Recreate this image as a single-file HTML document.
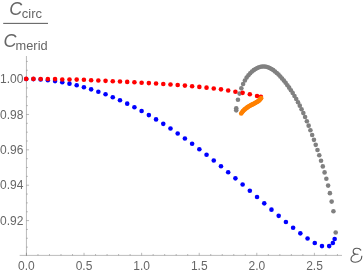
<!DOCTYPE html>
<html><head><meta charset="utf-8"><title>plot</title>
<style>
html,body{margin:0;padding:0;background:#fff;}
body{width:363px;height:273px;overflow:hidden;font-family:"Liberation Sans",sans-serif;}
svg{display:block;}
</style></head><body>
<svg width="363" height="273" viewBox="0 0 363 273">
<rect width="363" height="273" fill="#ffffff"/>
<g stroke="#666666" stroke-width="0.45" fill="none">
<path d="M19.7 255.4H342"/>
<path d="M26.45 56V255.8"/>
<path d="M26.45 255.4v-2.6M37.97 255.4v-1.4M49.49 255.4v-1.4M61.00 255.4v-1.4M72.52 255.4v-1.4M84.04 255.4v-2.6M95.56 255.4v-1.4M107.08 255.4v-1.4M118.59 255.4v-1.4M130.11 255.4v-1.4M141.63 255.4v-2.6M153.15 255.4v-1.4M164.67 255.4v-1.4M176.18 255.4v-1.4M187.70 255.4v-1.4M199.22 255.4v-2.6M210.74 255.4v-1.4M222.26 255.4v-1.4M233.77 255.4v-1.4M245.29 255.4v-1.4M256.81 255.4v-2.6M268.33 255.4v-1.4M279.85 255.4v-1.4M291.36 255.4v-1.4M302.88 255.4v-1.4M314.40 255.4v-2.6M325.92 255.4v-1.4M337.44 255.4v-1.4"/>
<path d="M26.45 247.12h1.4M26.45 238.27h1.4M26.45 229.43h1.4M26.45 220.59h2.6M26.45 211.75h1.4M26.45 202.90h1.4M26.45 194.06h1.4M26.45 185.22h2.6M26.45 176.37h1.4M26.45 167.53h1.4M26.45 158.69h1.4M26.45 149.84h2.6M26.45 141.00h1.4M26.45 132.16h1.4M26.45 123.31h1.4M26.45 114.47h2.6M26.45 105.63h1.4M26.45 96.79h1.4M26.45 87.94h1.4M26.45 79.10h2.6M26.45 70.26h1.4M26.45 61.41h1.4"/>
</g>
<g fill="#0000ff"><circle cx="26.20" cy="79.01" r="2.30"/><circle cx="33.41" cy="79.09" r="2.30"/><circle cx="40.63" cy="79.49" r="2.30"/><circle cx="47.84" cy="80.16" r="2.30"/><circle cx="55.06" cy="81.09" r="2.30"/><circle cx="62.27" cy="82.26" r="2.30"/><circle cx="69.48" cy="83.67" r="2.30"/><circle cx="76.70" cy="85.32" r="2.30"/><circle cx="83.91" cy="87.21" r="2.30"/><circle cx="91.13" cy="89.33" r="2.30"/><circle cx="98.34" cy="91.70" r="2.30"/><circle cx="105.55" cy="94.32" r="2.30"/><circle cx="112.77" cy="97.18" r="2.30"/><circle cx="119.98" cy="100.28" r="2.30"/><circle cx="127.20" cy="103.63" r="2.30"/><circle cx="134.41" cy="107.22" r="2.30"/><circle cx="141.62" cy="111.05" r="2.30"/><circle cx="148.84" cy="115.11" r="2.30"/><circle cx="156.05" cy="119.38" r="2.30"/><circle cx="163.27" cy="123.87" r="2.30"/><circle cx="170.48" cy="128.57" r="2.30"/><circle cx="177.69" cy="133.46" r="2.30"/><circle cx="184.91" cy="138.53" r="2.30"/><circle cx="192.12" cy="143.78" r="2.30"/><circle cx="199.34" cy="149.19" r="2.30"/><circle cx="206.55" cy="154.76" r="2.30"/><circle cx="213.76" cy="160.47" r="2.30"/><circle cx="220.98" cy="166.31" r="2.30"/><circle cx="228.19" cy="172.27" r="2.30"/><circle cx="235.41" cy="178.34" r="2.30"/><circle cx="242.62" cy="184.51" r="2.30"/><circle cx="249.83" cy="190.75" r="2.30"/><circle cx="257.05" cy="197.04" r="2.30"/><circle cx="264.26" cy="203.35" r="2.30"/><circle cx="271.48" cy="209.64" r="2.30"/><circle cx="278.69" cy="215.86" r="2.30"/><circle cx="285.90" cy="221.94" r="2.30"/><circle cx="293.12" cy="227.81" r="2.30"/><circle cx="300.33" cy="233.35" r="2.30"/><circle cx="307.55" cy="238.45" r="2.30"/><circle cx="314.76" cy="242.95" r="2.30"/><circle cx="321.97" cy="246.10" r="2.30"/><circle cx="329.19" cy="246.10" r="2.30"/><circle cx="332.86" cy="243.07" r="2.30"/><circle cx="334.64" cy="238.98" r="2.30"/></g><g fill="#808080"><circle cx="236.25" cy="110.35" r="2.30"/><circle cx="236.25" cy="108.20" r="2.30"/><circle cx="237.95" cy="99.80" r="2.30"/><circle cx="239.57" cy="93.58" r="2.30"/><circle cx="241.34" cy="88.34" r="2.30"/><circle cx="243.11" cy="84.03" r="2.30"/><circle cx="244.88" cy="80.51" r="2.30"/><circle cx="246.65" cy="77.60" r="2.30"/><circle cx="248.43" cy="75.21" r="2.30"/><circle cx="250.20" cy="73.21" r="2.30"/><circle cx="251.97" cy="71.54" r="2.30"/><circle cx="253.74" cy="70.14" r="2.30"/><circle cx="255.51" cy="68.98" r="2.30"/><circle cx="257.28" cy="68.04" r="2.30"/><circle cx="259.05" cy="67.32" r="2.30"/><circle cx="260.82" cy="66.82" r="2.30"/><circle cx="262.59" cy="66.55" r="2.30"/><circle cx="264.36" cy="66.51" r="2.30"/><circle cx="266.14" cy="66.73" r="2.30"/><circle cx="267.91" cy="67.23" r="2.30"/><circle cx="269.68" cy="67.98" r="2.30"/><circle cx="271.45" cy="68.95" r="2.30"/><circle cx="273.22" cy="70.11" r="2.30"/><circle cx="274.99" cy="71.45" r="2.30"/><circle cx="276.76" cy="72.95" r="2.30"/><circle cx="278.53" cy="74.62" r="2.30"/><circle cx="280.30" cy="76.46" r="2.30"/><circle cx="282.08" cy="78.45" r="2.30"/><circle cx="283.85" cy="80.58" r="2.30"/><circle cx="285.62" cy="82.81" r="2.30"/><circle cx="287.39" cy="85.18" r="2.30"/><circle cx="289.16" cy="87.66" r="2.30"/><circle cx="290.93" cy="90.28" r="2.30"/><circle cx="292.70" cy="93.03" r="2.30"/><circle cx="294.47" cy="95.94" r="2.30"/><circle cx="296.24" cy="99.01" r="2.30"/><circle cx="298.01" cy="102.26" r="2.30"/><circle cx="299.79" cy="105.67" r="2.30"/><circle cx="301.56" cy="109.28" r="2.30"/><circle cx="303.33" cy="113.08" r="2.30"/><circle cx="305.10" cy="117.07" r="2.30"/><circle cx="306.87" cy="121.27" r="2.30"/><circle cx="308.64" cy="125.66" r="2.30"/><circle cx="310.41" cy="130.23" r="2.30"/><circle cx="312.18" cy="134.96" r="2.30"/><circle cx="313.95" cy="139.84" r="2.30"/><circle cx="315.72" cy="144.83" r="2.30"/><circle cx="317.50" cy="149.96" r="2.30"/><circle cx="319.27" cy="155.23" r="2.30"/><circle cx="321.04" cy="160.71" r="2.30"/><circle cx="322.81" cy="166.42" r="2.30"/><circle cx="324.58" cy="172.41" r="2.30"/><circle cx="326.35" cy="178.78" r="2.30"/><circle cx="328.12" cy="185.62" r="2.30"/><circle cx="329.89" cy="193.13" r="2.30"/><circle cx="331.66" cy="201.60" r="2.30"/><circle cx="333.43" cy="211.19" r="2.30"/><circle cx="335.70" cy="232.50" r="2.30"/></g><g fill="#ff0000"><circle cx="26.20" cy="78.90" r="2.30"/><circle cx="33.41" cy="78.90" r="2.30"/><circle cx="40.63" cy="79.00" r="2.30"/><circle cx="47.84" cy="79.05" r="2.30"/><circle cx="55.06" cy="79.10" r="2.30"/><circle cx="62.27" cy="79.45" r="2.30"/><circle cx="69.48" cy="79.55" r="2.30"/><circle cx="76.70" cy="79.60" r="2.30"/><circle cx="83.91" cy="79.70" r="2.30"/><circle cx="91.13" cy="80.22" r="2.30"/><circle cx="98.34" cy="80.52" r="2.30"/><circle cx="105.55" cy="80.84" r="2.30"/><circle cx="112.77" cy="81.18" r="2.30"/><circle cx="119.98" cy="81.53" r="2.30"/><circle cx="127.20" cy="81.89" r="2.30"/><circle cx="134.41" cy="82.28" r="2.30"/><circle cx="141.62" cy="82.68" r="2.30"/><circle cx="148.84" cy="83.10" r="2.30"/><circle cx="156.05" cy="83.54" r="2.30"/><circle cx="163.27" cy="84.00" r="2.30"/><circle cx="170.48" cy="84.50" r="2.30"/><circle cx="177.69" cy="85.03" r="2.30"/><circle cx="184.91" cy="85.61" r="2.30"/><circle cx="192.12" cy="86.23" r="2.30"/><circle cx="199.34" cy="86.91" r="2.30"/><circle cx="206.55" cy="87.65" r="2.30"/><circle cx="213.76" cy="88.47" r="2.30"/><circle cx="220.98" cy="89.37" r="2.30"/><circle cx="228.19" cy="90.55" r="2.30"/><circle cx="235.41" cy="91.70" r="2.30"/><circle cx="242.62" cy="92.85" r="2.30"/><circle cx="249.83" cy="94.20" r="2.30"/><circle cx="257.05" cy="95.95" r="2.30"/><circle cx="260.90" cy="96.75" r="2.30"/></g><g fill="#ff8000"><circle cx="241.20" cy="113.50" r="2.30"/><circle cx="242.07" cy="112.33" r="2.30"/><circle cx="242.93" cy="111.16" r="2.30"/><circle cx="243.80" cy="110.27" r="2.30"/><circle cx="244.67" cy="109.38" r="2.30"/><circle cx="245.54" cy="108.68" r="2.30"/><circle cx="246.40" cy="108.01" r="2.30"/><circle cx="247.27" cy="107.38" r="2.30"/><circle cx="248.14" cy="106.83" r="2.30"/><circle cx="249.01" cy="106.27" r="2.30"/><circle cx="249.87" cy="105.78" r="2.30"/><circle cx="250.74" cy="105.31" r="2.30"/><circle cx="251.61" cy="104.84" r="2.30"/><circle cx="252.48" cy="104.39" r="2.30"/><circle cx="253.34" cy="103.93" r="2.30"/><circle cx="254.21" cy="103.48" r="2.30"/><circle cx="255.08" cy="103.03" r="2.30"/><circle cx="255.95" cy="102.57" r="2.30"/><circle cx="256.81" cy="102.07" r="2.30"/><circle cx="257.68" cy="101.58" r="2.30"/><circle cx="258.55" cy="100.91" r="2.30"/><circle cx="259.42" cy="100.14" r="2.30"/><circle cx="260.28" cy="99.21" r="2.30"/><circle cx="261.15" cy="98.15" r="2.30"/></g>
<g font-family="Liberation Sans, sans-serif" font-size="12px" fill="#666666" style="filter:grayscale(1)">
<text x="26.40" y="270.0" text-anchor="middle">0.0</text>
<text x="84.02" y="270.0" text-anchor="middle">0.5</text>
<text x="141.64" y="270.0" text-anchor="middle">1.0</text>
<text x="199.26" y="270.0" text-anchor="middle">1.5</text>
<text x="256.88" y="270.0" text-anchor="middle">2.0</text>
<text x="314.50" y="270.0" text-anchor="middle">2.5</text>
<text x="23.3" y="83.35" text-anchor="end">1.00</text>
<text x="23.3" y="118.72" text-anchor="end">0.98</text>
<text x="23.3" y="154.09" text-anchor="end">0.96</text>
<text x="23.3" y="189.46" text-anchor="end">0.94</text>
<text x="23.3" y="224.83" text-anchor="end">0.92</text>
</g>
<g font-family="Liberation Sans, sans-serif" fill="#666666" style="filter:grayscale(1)">
<text x="9.3" y="14.8" font-size="18px" font-style="italic">C</text>
<text x="21.8" y="18" font-size="13px">circ</text>
<rect x="3.2" y="22.85" width="44.8" height="1.1"/>
<text x="3.5" y="46.5" font-size="18px" font-style="italic">C</text>
<text x="15.6" y="49.9" font-size="12.8px">merid</text>
<path d="M360.8 250.1C360.2 249.0 358.6 248.2 356.6 248.3C354.6 248.4 353.2 249.8 353.2 251.5C353.2 253.2 354.4 254.2 356.0 254.2L358.0 254.2M355.6 254.2C353.2 254.9 351.0 257.0 351.0 259.3C351.0 261.2 352.8 262.2 355.3 262.2C358.9 262.2 361.9 260.1 361.8 256.2" fill="none" stroke="#585858" stroke-width="1.15" stroke-linecap="round" stroke-linejoin="round"/>
</g>
</svg>
</body></html>
